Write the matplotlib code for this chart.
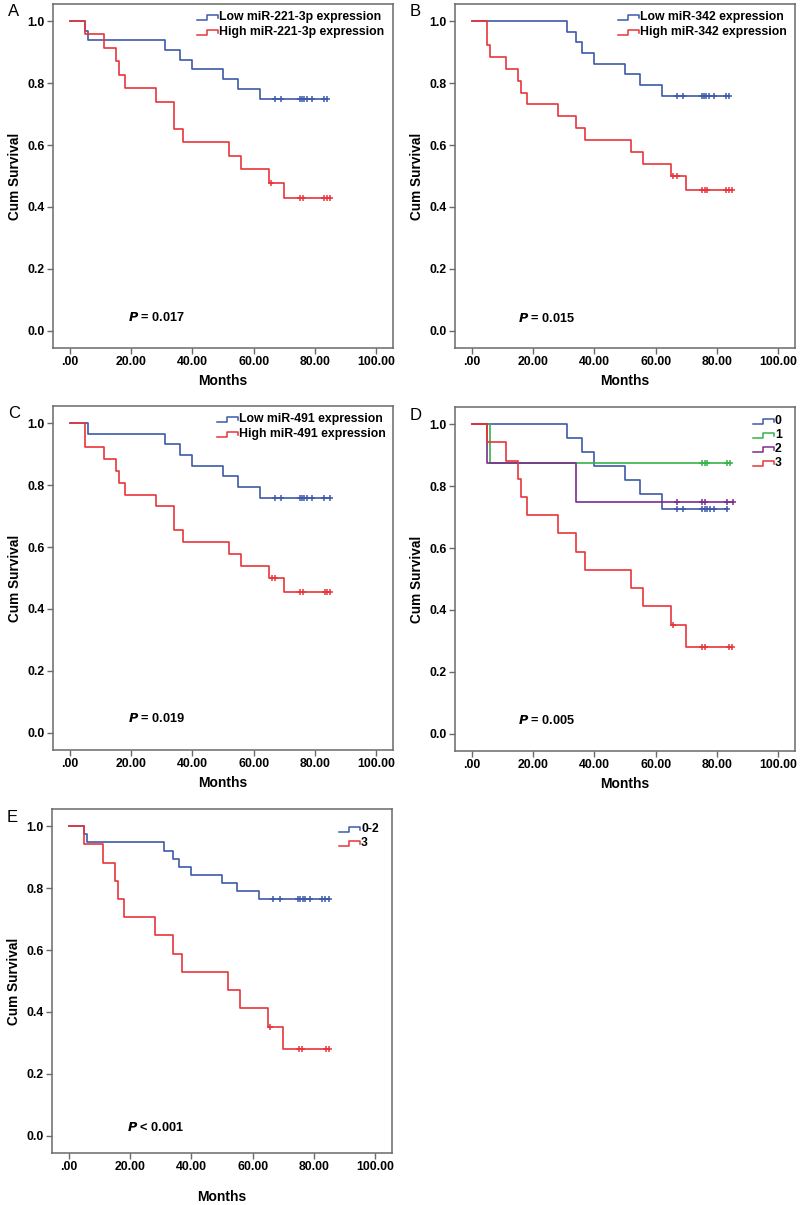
import numpy as np
import matplotlib
matplotlib.use("Agg")
import matplotlib.pyplot as plt

plt.rcParams['font.family'] = ['Liberation Sans', 'DejaVu Sans']

BLUE = '#3d59a9'
RED = '#e8353b'
GREEN = '#37b34a'
PURPLE = '#7d2b8e'
FRAME = '#6a6a6a'

# ---- panel A ----
a_low_t = [0, 5, 6, 31, 36, 40, 50, 55, 62, 84]
a_low_s = [1.0, 0.969, 0.938, 0.906, 0.875, 0.844, 0.813, 0.781, 0.75, 0.75]
a_low_c = [67, 69, 75, 75.8, 76.5, 77.3, 79, 83, 84]
a_high_t = [0, 5, 11, 15, 16, 18, 28, 34, 37, 52, 56, 65, 70, 85]
a_high_s = [1.0, 0.957, 0.913, 0.870, 0.826, 0.783, 0.739, 0.652, 0.609, 0.565, 0.522, 0.478, 0.430, 0.430]
a_high_c = [65.7, 75, 76, 83, 84, 85]

# ---- panel B ----
b_low_t = [0, 31, 34, 36, 40, 50, 55, 62, 84]
b_low_s = [1.0, 0.966, 0.931, 0.897, 0.862, 0.828, 0.793, 0.759, 0.759]
b_low_c = [67, 69, 75, 75.7, 76.5, 77.5, 79, 83, 84]
b_high_t = [0, 5, 6, 11, 15, 16, 18, 28, 34, 37, 52, 56, 65, 70, 85]
b_high_s = [1.0, 0.923, 0.885, 0.846, 0.808, 0.769, 0.731, 0.692, 0.654, 0.615, 0.577, 0.538, 0.50, 0.455, 0.455]
b_high_c = [65.8, 67, 75, 76, 76.8, 83, 84, 85]

# ---- panel C ----
c_low_t = [0, 6, 31, 36, 40, 50, 55, 62, 85]
c_low_s = [1.0, 0.966, 0.931, 0.897, 0.862, 0.828, 0.793, 0.759, 0.759]
c_low_c = [67, 69, 75, 75.7, 76.6, 77.3, 79, 83, 85]
c_high_t = [0, 5, 11, 15, 16, 18, 28, 34, 37, 52, 56, 65, 70, 85]
c_high_s = [1.0, 0.923, 0.885, 0.846, 0.808, 0.769, 0.731, 0.654, 0.615, 0.577, 0.538, 0.50, 0.455, 0.455]
c_high_c = [65.9, 67, 75, 76, 83.3, 84.1, 85]

# ---- panel D ----
d0_t = [0, 31, 36, 40, 50, 55, 62, 83.3]
d0_s = [1.0, 0.955, 0.909, 0.864, 0.818, 0.773, 0.727, 0.727]
d0_c = [67, 69, 75, 76, 76.8, 77.6, 79, 83.3]
d1_t = [0, 6, 84.2]
d1_s = [1.0, 0.875, 0.875]
d1_c = [75, 76, 76.8, 83.3, 84.2]
d2_t = [0, 5, 34, 85.2]
d2_s = [1.0, 0.875, 0.75, 0.75]
d2_c = [67, 75, 76, 83.3, 85.2]
d3_t = [0, 5, 11, 15, 16, 18, 28, 34, 37, 52, 56, 65, 70, 84.8]
d3_s = [1.0, 0.941, 0.882, 0.824, 0.765, 0.706, 0.647, 0.588, 0.529, 0.471, 0.412, 0.353, 0.282, 0.282]
d3_c = [65.8, 75, 76, 83.8, 84.8]

# ---- panel E ----
e_low_t = [0, 5, 6, 31, 34, 36, 40, 50, 55, 62, 84.8]
e_low_s = [1.0, 0.974, 0.947, 0.921, 0.895, 0.868, 0.842, 0.816, 0.789, 0.763, 0.763]
e_low_c = [66.8, 69, 74.7, 75.5, 76.3, 77.2, 78.7, 82.6, 83.6, 84.8]
e_high_t = [0, 5, 11, 15, 16, 18, 28, 34, 37, 52, 56, 65, 70, 85]
e_high_s = [1.0, 0.941, 0.882, 0.824, 0.765, 0.706, 0.647, 0.588, 0.529, 0.471, 0.412, 0.353, 0.282, 0.282]
e_high_c = [65.8, 75, 76, 83.8, 85]

xticks = [0, 20, 40, 60, 80, 100]
xlabels = ['.00', '20.00', '40.00', '60.00', '80.00', '100.00']
yticks = [0.0, 0.2, 0.4, 0.6, 0.8, 1.0]

W, H = 800, 1205
fig = plt.figure(figsize=(W / 100, H / 100), dpi=100)
AW, AH = 340, 344


def make_ax(left, top):
    ax = fig.add_axes([left / W, 1 - (top + AH) / H, AW / W, AH / H])
    ax.set_xlim(-5.5, 105.5)
    ax.set_ylim(-0.055, 1.055)
    ax.set_xticks(xticks)
    ax.set_xticklabels(xlabels)
    ax.set_yticks(yticks)
    ax.set_yticklabels(['%.1f' % v for v in yticks])
    for s in ax.spines.values():
        s.set_color(FRAME)
        s.set_linewidth(1.1)
    ax.tick_params(direction='out', length=4, width=1.0, color=FRAME,
                   labelsize=8.8, pad=2)
    for lab in ax.get_xticklabels() + ax.get_yticklabels():
        lab.set_fontweight('bold')
    ax.set_ylabel('Cum Survival', fontsize=9.8, fontweight='bold', labelpad=4)
    return ax


def km(ax, t, s, c, color):
    ax.step(t, s, where='post', color=color, lw=1.2)
    idx = np.searchsorted(t, c, side='right') - 1
    ax.plot(c, np.array(s)[idx], '+', color=color, ms=5, mew=1.1)


def legend(ax, labels, colors, top_off, dy, x0):
    # SPSS-style step glyph legend, positions in pixels from axes top-left
    for i, (lab, col) in enumerate(zip(labels, colors)):
        yc = top_off + dy * i
        gx = np.array([0, 10, 10, 21, 21]) + x0
        gy = np.array([2.5, 2.5, -2.5, -2.5, 1.0]) + yc
        ax.plot(gx / AW, 1 - gy / AH, color=col, lw=1.1,
                transform=ax.transAxes, clip_on=False)
        ax.text((x0 + 22) / AW, 1 - yc / AH, lab, transform=ax.transAxes,
                fontsize=8.8, fontweight='bold', va='center', ha='left')


def pval(ax, x, y, op, val):
    ax.text(x, y, r'$\mathbfit{P}$' + ' %s %s' % (op, val), fontsize=9.2,
            fontweight='bold', va='center', ha='left')


def letter(ax, s):
    ax.text(-45 / AW, 1 - 8 / AH, s, transform=ax.transAxes, fontsize=12,
            va='center', ha='left')


# A
ax = make_ax(53, 4)
km(ax, a_low_t, a_low_s, a_low_c, BLUE)
km(ax, a_high_t, a_high_s, a_high_c, RED)
legend(ax, ['Low miR-221-3p expression', 'High miR-221-3p expression'],
       [BLUE, RED], 13, 15, 144)
pval(ax, 19, 0.042, '=', '0.017')
ax.set_xlabel('Months', fontsize=10, fontweight='bold', labelpad=4)
letter(ax, 'A')

# B
ax = make_ax(455, 4)
km(ax, b_low_t, b_low_s, b_low_c, BLUE)
km(ax, b_high_t, b_high_s, b_high_c, RED)
legend(ax, ['Low miR-342 expression', 'High miR-342 expression'],
       [BLUE, RED], 13, 15, 163)
pval(ax, 15, 0.04, '=', '0.015')
ax.set_xlabel('Months', fontsize=10, fontweight='bold', labelpad=4)
letter(ax, 'B')

# C
ax = make_ax(53, 406)
km(ax, c_low_t, c_low_s, c_low_c, BLUE)
km(ax, c_high_t, c_high_s, c_high_c, RED)
legend(ax, ['Low miR-491 expression', 'High miR-491 expression'],
       [BLUE, RED], 13, 15, 164)
pval(ax, 19, 0.046, '=', '0.019')
ax.set_xlabel('Months', fontsize=10, fontweight='bold', labelpad=4)
letter(ax, 'C')

# D
ax = make_ax(455, 407)
km(ax, d0_t, d0_s, d0_c, BLUE)
km(ax, d1_t, d1_s, d1_c, GREEN)
km(ax, d2_t, d2_s, d2_c, PURPLE)
km(ax, d3_t, d3_s, d3_c, RED)
legend(ax, ['0', '1', '2', '3'], [BLUE, GREEN, PURPLE, RED], 14, 14, 298)
pval(ax, 15, 0.042, '=', '0.005')
ax.set_xlabel('Months', fontsize=10, fontweight='bold', labelpad=4)
letter(ax, 'D')

# E
ax = make_ax(52, 809)
km(ax, e_low_t, e_low_s, e_low_c, BLUE)
km(ax, e_high_t, e_high_s, e_high_c, RED)
legend(ax, ['0-2', '3'], [BLUE, RED], 20, 14, 287)
pval(ax, 19, 0.028, '<', '0.001')
ax.set_xlabel('Months', fontsize=10, fontweight='bold', labelpad=12)
letter(ax, 'E')

fig.savefig('out.png', dpi=100, facecolor='white')
